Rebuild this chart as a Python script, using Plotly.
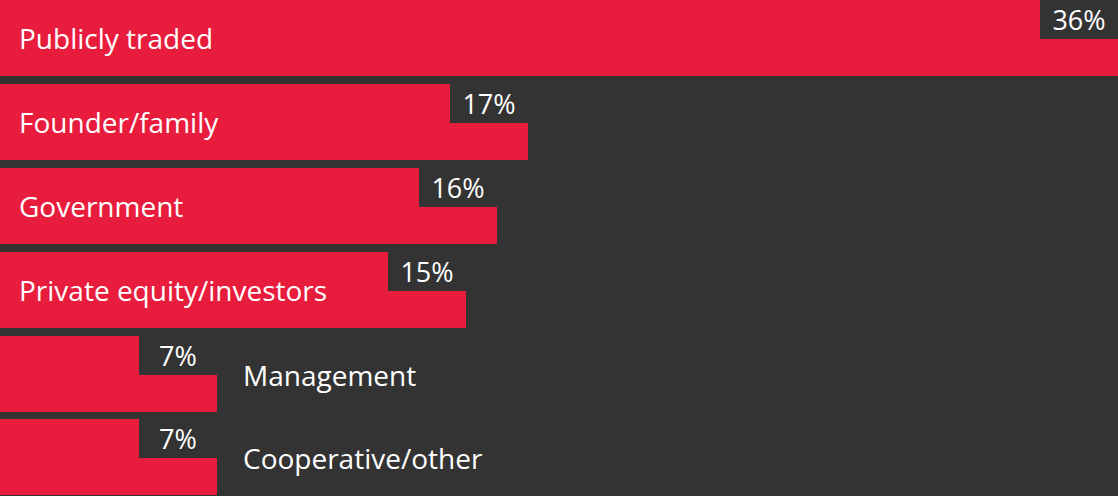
import plotly.graph_objects as go

categories = ["Publicly traded", "Founder/family", "Government",
              "Private equity/investors", "Management", "Cooperative/other"]
values = [36, 17, 16, 15, 7, 7]
pct_labels = ["36%", "17%", "16%", "15%", "7%", "7%"]

RED = "#E81C3D"
DARK = "#333333"
FONT = "Open Sans"
bar_w = 0.907

fig = go.Figure(go.Bar(
    x=values,
    y=list(range(len(categories))),
    orientation="h",
    marker=dict(color=RED, line=dict(width=0)),
    width=bar_w,
    hoverinfo="skip",
))

annotations = []
for i, (cat, v, lab) in enumerate(zip(categories, values, pct_labels)):
    # percentage tag: dark box cut into the bar's top-right corner
    annotations.append(dict(
        x=v, y=i - bar_w / 2, xref="x", yref="y",
        xanchor="right", yanchor="top",
        text=lab, showarrow=False,
        width=78, height=40, bgcolor=DARK, align="center",
        borderwidth=0, borderpad=0, yshift=1,
        font=dict(family=FONT, size=27, color="white"),
    ))
    # category name: inside the bar when it fits, else after it
    if v >= 10:
        annotations.append(dict(
            x=0, y=i, xref="x", yref="y", xanchor="left", yanchor="middle",
            xshift=18, text=cat, showarrow=False, borderpad=0,
            font=dict(family=FONT, size=28, color="white"),
        ))
    else:
        annotations.append(dict(
            x=v, y=i, xref="x", yref="y", xanchor="left", yanchor="middle",
            xshift=25, yshift=-1, text=cat, showarrow=False, borderpad=0,
            font=dict(family=FONT, size=28, color="white"),
        ))

fig.update_layout(
    width=1118, height=496,
    margin=dict(l=0, r=0, t=0, b=0, autoexpand=False),
    paper_bgcolor=DARK, plot_bgcolor=DARK,
    showlegend=False,
    bargap=0,
    xaxis=dict(range=[0, 36], visible=False, fixedrange=True),
    yaxis=dict(range=[5.46, -0.455], visible=False, fixedrange=True),
    annotations=annotations,
)

# drop the browser's default 8px body margin so the chart fills the window
fig.write_html(
    "out.html",
    config={"displayModeBar": False},
    post_script="document.body.style.margin='0';",
)
